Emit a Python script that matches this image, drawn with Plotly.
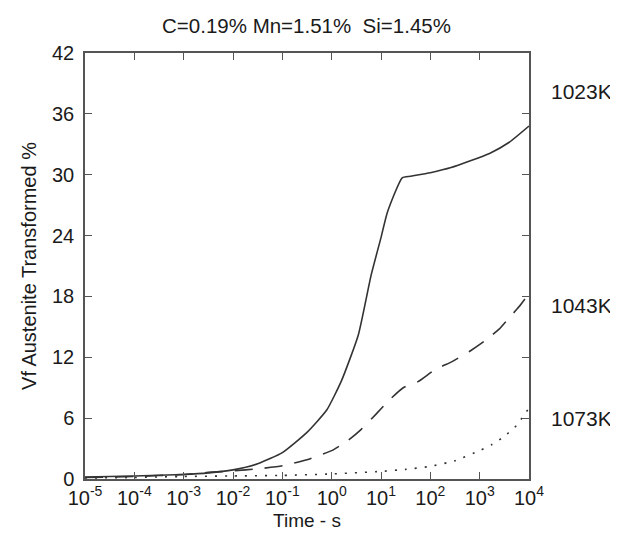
import numpy as np
import plotly.graph_objects as go

# log10(time in s) and volume fraction transformed (%)
logt_1023 = [-5, -4, -3, -2.5, -2, -1.5, -1, -0.5, -0.1, 0.2, 0.54, 0.8, 1.0, 1.13, 1.43, 1.6, 2.0, 2.42, 3.2, 3.6, 4.0]
vf_1023 = [0.2, 0.3, 0.45, 0.6, 0.9, 1.5, 2.6, 4.6, 6.8, 9.7, 14.2, 20.1, 23.8, 26.3, 29.7, 29.85, 30.2, 30.7, 32.1, 33.2, 34.8]

logt_1043 = [-5, -4, -3, -2.5, -2, -1.5, -1, -0.5, 0, 0.33, 0.6, 0.9, 1.15, 1.45, 1.75, 2.1, 2.45, 2.8, 3.1, 3.4, 3.6, 3.8, 4.0]
vf_1043 = [0.15, 0.25, 0.45, 0.65, 0.8, 1.0, 1.3, 1.9, 2.8, 3.8, 4.9, 6.4, 7.7, 9.0, 9.6, 10.8, 11.6, 12.6, 13.6, 14.8, 15.9, 17.0, 18.3]

logt_1073 = [-5, -4, -3, -2, -1, 0, 1, 1.5, 2, 2.5, 3, 3.25, 3.5, 3.75, 4.0]
vf_1073 = [0.1, 0.15, 0.25, 0.3, 0.35, 0.5, 0.75, 0.95, 1.25, 1.8, 2.8, 3.4, 4.2, 5.3, 7.0]

series_labels = ["1023K", "1043K", "1073K"]
label_y = [38.2, 17.1, 6.0]

x_exponents = list(range(-5, 5))
y_ticks = [0, 6, 12, 18, 24, 30, 36, 42]

title_text = "C=0.19% Mn=1.51%  Si=1.45%"
x_title = "Time - s"
y_title = "Vf Austenite Transformed %"

FONT = "Liberation Sans, Arial, Helvetica, sans-serif"
LINE = "#333333"
TXT = "#1a1a1a"

fig = go.Figure()
styles = ["solid", "18px,12px", "2px,8px"]
for lt, vf, dash in zip([logt_1023, logt_1043, logt_1073], [vf_1023, vf_1043, vf_1073], styles):
    fig.add_trace(go.Scatter(
        x=[10 ** v for v in lt], y=vf, mode="lines",
        line=dict(color=LINE, width=1.6, dash=dash, shape="spline", smoothing=0.5),
        showlegend=False, hoverinfo="skip"))

for lab, yy in zip(series_labels, label_y):
    fig.add_annotation(x=1.045, xref="paper", y=yy, yref="y", text=lab,
                       showarrow=False, xanchor="left",
                       font=dict(family=FONT, size=21, color=TXT))

axis_common = dict(showline=True, linecolor="#555555", linewidth=1.5, mirror="allticks",
                   ticks="inside", ticklen=7, tickwidth=1.2, tickcolor="#555555",
                   showgrid=False, zeroline=False, automargin=False,
                   tickfont=dict(family=FONT, size=20, color=TXT))

fig.update_xaxes(type="log", range=[-5, 4],
                 tickvals=[10 ** e for e in x_exponents],
                 ticktext=[f"10<sup>{e}</sup>" for e in x_exponents],
                 ticklabelstandoff=0,
                 title=dict(text=x_title, font=dict(family=FONT, size=19, color=TXT), standoff=6),
                 **axis_common)
fig.update_yaxes(range=[0, 42], tickvals=y_ticks,
                 ticklabelstandoff=5,
                 title=dict(text=y_title, font=dict(family=FONT, size=20, color=TXT), standoff=10),
                 **axis_common)

fig.update_layout(
    width=618, height=535,
    margin=dict(l=77, r=97, t=45, b=64),
    paper_bgcolor="white", plot_bgcolor="white",
    title=dict(text=title_text, x=0.483, xanchor="center", y=0.967, yanchor="middle",
               font=dict(family=FONT, size=20.5, color=TXT)),
)

fig.write_html("out.html")
